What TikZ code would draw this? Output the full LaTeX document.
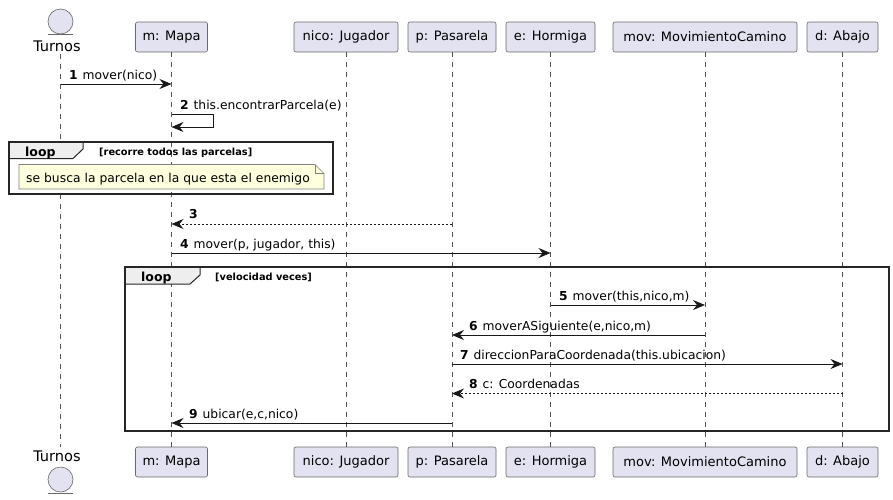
\documentclass[tikz,border=0pt]{standalone}
\usepackage{fontspec}
\setmainfont{DejaVu Sans}
\usetikzlibrary{arrows, arrows.meta}
\definecolor{boxfill}{HTML}{E2E2F0}
\definecolor{linecol}{HTML}{181818}
\definecolor{notefill}{HTML}{FEFFDD}
\definecolor{tabfill}{HTML}{EEEEEE}
\newfontfamily\notefont[LetterSpace=0.3]{DejaVu Sans}
\tikzset{participant/.style = {shape = rectangle, draw = linecol!65, line width = 0.6pt, fill = boxfill, rounded corners = 2pt, minimum height = 30pt, inner sep = 0pt, font = \fontsize{13}{15}\selectfont}}
\tikzset{actorhead/.style = {shape = circle, draw = linecol!65, line width = 0.6pt, fill = boxfill, minimum size = 25pt, inner sep = 0pt}}
\tikzset{actorname/.style = {inner sep = 0pt, font = \fontsize{14.6}{16}\selectfont}}
\tikzset{lifeline/.style = {draw = linecol!75, line width = 0.5pt, dash pattern = on 5pt off 5pt}}
\tikzset{edge/.style = {draw = linecol, line width = 0.8pt, -{Stealth[length = 12pt, width = 10pt, inset = 4pt]}}}
\tikzset{reply/.style = {edge, dash pattern = on 2pt off 2pt}}
\tikzset{msg/.style = {anchor = base west, inner sep = 0pt, font = \fontsize{12.3}{15}\selectfont}}
\tikzset{frameline/.style = {draw = black!85, line width = 1.8pt}}
\tikzset{frametab/.style = {draw = black!85, line width = 1pt, fill = tabfill}}
\tikzset{looplabel/.style = {anchor = base west, inner sep = 0pt, font = \fontsize{12.5}{15}\selectfont\bfseries}}
\tikzset{guard/.style = {anchor = base west, inner sep = 0pt, font = \fontsize{9.8}{12}\selectfont\bfseries}}
\begin{document}
\begin{tikzpicture}[x = 1pt, y = -1pt]
	\useasboundingbox (0, 0) rectangle (893, 499);

	% top row
	\node[actorhead] (turnosTop) at (60.5, 21.5) {};
	\coordinate (barTopL) at (48, 34.5);
	\coordinate (barTopR) at (73, 34.5);
	\node[actorname] (turnosName) at (57, 46) {Turnos};
	\node[participant, minimum width = 72pt] (mTop) at (171.5, 37) {m: Mapa};
	\node[participant, minimum width = 104pt] (nicoTop) at (346, 37) {nico: Jugador};
	\node[participant, minimum width = 88pt] (pTop) at (452, 37) {p: Pasarela};
	\node[participant, minimum width = 89pt] (eTop) at (550.5, 37) {e: Hormiga};
	\node[participant, minimum width = 184pt] (movTop) at (705, 37) {mov: MovimientoCamino};
	\node[participant, minimum width = 71pt] (dTop) at (842.5, 37) {d: Abajo};

	% bottom row
	\node[actorname] (turnosEnd) at (57, 456) {Turnos};
	\coordinate (barEndL) at (48, 493);
	\coordinate (barEndR) at (73, 493);
	\node[actorhead] (turnosBot) at (60.5, 479.5) {};
	\node[participant, minimum width = 72pt] (mBot) at (171.5, 462) {m: Mapa};
	\node[participant, minimum width = 104pt] (nicoBot) at (346, 462) {nico: Jugador};
	\node[participant, minimum width = 88pt] (pBot) at (452, 462) {p: Pasarela};
	\node[participant, minimum width = 89pt] (eBot) at (550.5, 462) {e: Hormiga};
	\node[participant, minimum width = 184pt] (movBot) at (705, 462) {mov: MovimientoCamino};
	\node[participant, minimum width = 71pt] (dBot) at (842.5, 462) {d: Abajo};

	\draw[linecol!65, line width = 0.6pt] (barTopL) to (barTopR);
	\draw[linecol!65, line width = 0.6pt] (barEndL) to (barEndR);

	\coordinate (tStart) at (60.5, 54);
	\coordinate (tEnd) at (60.5, 447);
	\draw[lifeline] (tStart) to (tEnd);
	\draw[lifeline] (mTop.south) to (mBot.north);
	\draw[lifeline] (nicoTop.south) to (nicoBot.north);
	\draw[lifeline] (pTop.south) to (pBot.north);
	\draw[lifeline] (eTop.south) to (eBot.north);
	\draw[lifeline] (movTop.south) to (movBot.north);
	\draw[lifeline] (dTop.south) to (dBot.north);

	% first loop
	\coordinate (loopA1) at (9, 142);
	\coordinate (loopA2) at (333, 194);
	\draw[frametab] (9, 142) -- (83, 142) -- (83, 149) -- (73, 158.5) -- (9, 158.5) -- cycle;
	\draw[frameline] (loopA1) rectangle (loopA2);
	\node[looplabel] (loopAName) at (25, 156) {loop};
	\node[guard] (loopAGuard) at (99, 155) {[recorre todos las parcelas]};
	\draw[draw = linecol!55, line width = 0.6pt, fill = notefill] (19, 164.5) -- (315, 164.5) -- (324, 173.5) -- (324, 189) -- (19, 189) -- cycle;
	\draw[draw = linecol!55, line width = 0.6pt] (315, 164.5) -- (315, 173.5) -- (324, 173.5);
	\node[msg] (noteText) at (26, 182) {\notefont se busca la parcela en la que esta el enemigo};

	% second loop
	\coordinate (loopB1) at (125, 267);
	\coordinate (loopB2) at (889, 431);
	\draw[frametab] (125, 267) -- (200, 267) -- (200, 275) -- (190, 284) -- (125, 284) -- cycle;
	\draw[frameline] (loopB1) rectangle (loopB2);
	\node[looplabel] (loopBName) at (141, 281) {loop};
	\node[guard] (loopBGuard) at (215, 280) {[velocidad veces]};

	% message ends
	\coordinate (a1) at (60.5, 84);
	\coordinate (b1) at (171.5, 84);
	\coordinate (a2) at (171.5, 114);
	\coordinate (k2) at (213, 114);
	\coordinate (j2) at (213, 127);
	\coordinate (b2) at (171.5, 127);
	\coordinate (a3) at (452, 224);
	\coordinate (b3) at (171.5, 224);
	\coordinate (a4) at (171.5, 253);
	\coordinate (b4) at (550.5, 253);
	\coordinate (a5) at (550.5, 305);
	\coordinate (b5) at (705, 305);
	\coordinate (a6) at (705, 335);
	\coordinate (b6) at (452, 335);
	\coordinate (a7) at (452, 364);
	\coordinate (b7) at (842.5, 364);
	\coordinate (a8) at (842.5, 393.5);
	\coordinate (b8) at (452, 393.5);
	\coordinate (a9) at (452, 423);
	\coordinate (b9) at (171.5, 423);

	\draw[edge] (a1) to (b1);
	\draw[edge] (a2) -- (k2) -- (j2) -- (b2);
	\draw[reply] (a3) to (b3);
	\draw[edge] (a4) to (b4);
	\draw[edge] (a5) to (b5);
	\draw[edge] (a6) to (b6);
	\draw[edge] (a7) to (b7);
	\draw[reply] (a8) to (b8);
	\draw[edge] (a9) to (b9);

	\node[msg] (m1) at (69, 79) {\textbf{1}\hspace{1pt} mover(nico)};
	\node[msg] (m2) at (180, 109) {\textbf{2}\hspace{1pt} this.encontrarParcela(e)};
	\node[msg] (m3) at (189, 218) {\textbf{3}};
	\node[msg] (m4) at (180, 248) {\textbf{4}\hspace{1pt} mover(p, jugador, this)};
	\node[msg] (m5) at (559, 300) {\textbf{5}\hspace{1pt} mover(this,nico,m)};
	\node[msg] (m6) at (469, 330.5) {\textbf{6}\hspace{1pt} moverASiguiente(e,nico,m)};
	\node[msg] (m7) at (460, 359) {\textbf{7}\hspace{1pt} direccionParaCoordenada(this.ubicacion)};
	\node[msg] (m8) at (469, 388.5) {\textbf{8}\hspace{1pt} c: Coordenadas};
	\node[msg] (m9) at (189, 418) {\textbf{9}\hspace{1pt} ubicar(e,c,nico)};
\end{tikzpicture}
\end{document}
